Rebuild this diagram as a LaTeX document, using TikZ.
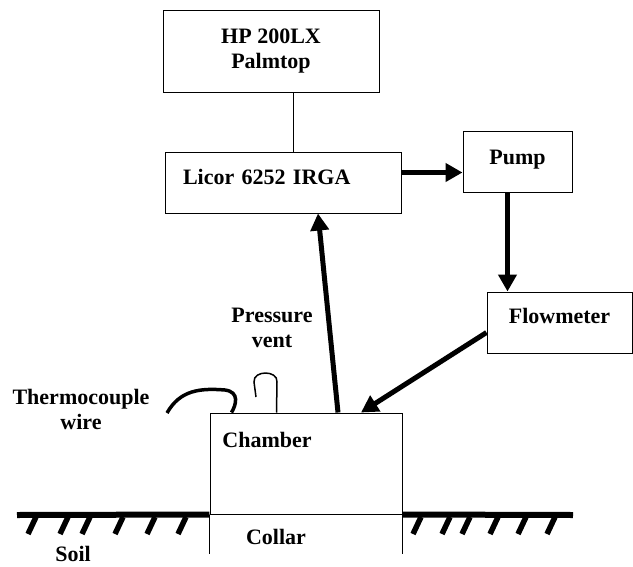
\documentclass[tikz,border=0pt]{standalone}
\usepackage{fontspec}
\setmainfont{Liberation Serif}
\usetikzlibrary{arrows.meta,positioning}

\begin{document}
\begin{tikzpicture}[
        x=1pt, y=-1pt,
        every node/.style={font=\bfseries\fontsize{22}{25}\selectfont},
        box/.style={rectangle, draw, line width=1pt, inner sep=0pt, align=center},
        arrow/.style={-{Triangle[length=17pt,width=18pt]}, line width=5pt},
        thin/.style={line width=1pt},
        ground/.style={line width=6pt},
        hatch/.style={line width=5.5pt}
    ]
        \useasboundingbox (0,0) rectangle (633,566);

        \node[box, minimum width=216pt, minimum height=82pt] (palm) at (271,51) {HP 200LX\\Palmtop};
        \node[box, text width=200pt, inner xsep=18pt, align=left, minimum height=61pt, text depth=12pt] (licor) at (283,182.5) {Licor 6252 IRGA};
        \node[box, minimum width=109pt, minimum height=61pt, text depth=9pt] (pump) at (517.5,161.5) {Pump};
        \node[box, minimum width=145pt, minimum height=61pt, text depth=14pt] (flow) at (559.5,322.5) {Flowmeter};
        \node[box, minimum width=192pt, minimum height=101pt] (chamber) at (306,463.5) {};

        \node (chambertext) at (267,440) {Chamber};
        \node (collar) at (276,537) {Collar};
        \node (soil) at (73,554) {Soil};
        \node[align=center] (thermo) at (81,409) {Thermocouple\\wire};
        \node[align=center] (vent) at (272,328) {Pressure\\vent};

        \draw[thin] ([xshift=22pt]palm.south) -- ([xshift=22pt]palm.south |- licor.north);
        \draw[arrow] ([yshift=10pt]licor.east) -- ([yshift=10pt]licor.east -| pump.west);
        \draw[arrow] ([xshift=-10pt]pump.south) -- ([xshift=-10pt]pump.south |- flow.north);
        \draw[arrow] ([yshift=-10pt]flow.west) -- ([xshift=55pt]chamber.north);
        \draw[arrow] ([xshift=32pt]chamber.north) -- ([xshift=35pt]licor.south);

        % collar and soil surface
        \draw[thin] (chamber.south west) -- ++(0,39);
        \draw[thin] (chamber.south east) -- ++(0,39);
        \draw[ground] (17,515) -- (chamber.south west);
        \draw[ground] (chamber.south east) -- (573,515);
        \foreach \x in {28,60,82,115,147,178,413,442,462,490,518,547}
            \draw[hatch] (\x+8,517) -- (\x,534);

        % thermocouple wire and pressure vent
        \draw[line width=3.5pt] (167,413) .. controls (180,390) and (200,388) .. (225,390)
            .. controls (240,392) and (236,405) .. ([xshift=22pt]chamber.north west);
        \draw[line width=1.5pt] (256,397) -- (254,382) .. controls (253,370) and (278,370) .. (277,382)
            -- ([xshift=67pt]chamber.north west);
    \end{tikzpicture}
\end{document}
